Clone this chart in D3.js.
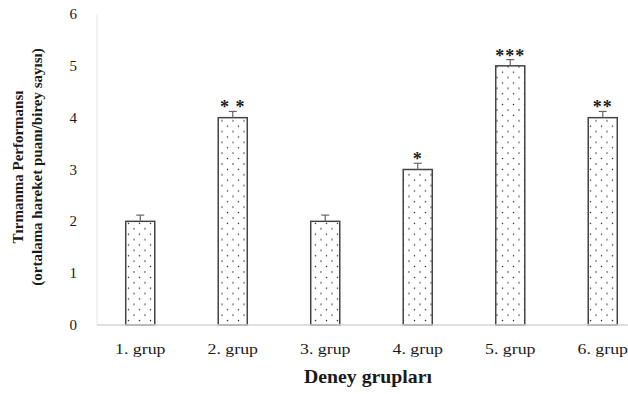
<!DOCTYPE html>
<html lang="tr">
<head>
<meta charset="UTF-8">
<title>Tırmanma Performansı</title>
<script src="https://d3js.org/d3.v7.min.js"></script>
<style>
    body { margin: 0; background: #fff; }
    svg { display: block; }
    text { font-family: "Liberation Serif", "Times New Roman", serif; fill: #1a1a1a; }
</style>
</head>
<body>
<svg width="628" height="394"></svg>
<script>
    // veriler
    const groups = ["1. grup", "2. grup", "3. grup", "4. grup", "5. grup", "6. grup"];
    const values = [2, 4, 2, 3, 5, 4];
    const errors = [0.12, 0.12, 0.12, 0.12, 0.12, 0.12];
    const stars = ["", "* *", "", "*", "***", "**"];
    const yTicks = [0, 1, 2, 3, 4, 5, 6];

    const svg = d3.select("svg");

    const x = d3.scaleBand()
        .domain(groups)
        .range([94, 649])
        .paddingInner(0.686)
        .paddingOuter(0.343);

    const y = d3.scaleLinear().domain([0, 6]).range([325, 14]);

    // nokta deseni
    const pat = svg.append("defs").append("pattern")
        .attr("id", "dots")
        .attr("patternUnits", "userSpaceOnUse")
        .attr("width", 11).attr("height", 10.8);
    pat.append("rect").attr("width", 11).attr("height", 10.8).attr("fill", "#fff");
    pat.append("circle").attr("cx", 2).attr("cy", 2).attr("r", 0.75).attr("fill", "#222");
    pat.append("circle").attr("cx", 7.5).attr("cy", 7.4).attr("r", 0.75).attr("fill", "#222");

    // y ekseni (sadece etiketler + soluk çizgi)
    svg.append("line")
        .attr("x1", 97).attr("x2", 97)
        .attr("y1", y(6)).attr("y2", y(0))
        .attr("stroke", "#e4e4e4").attr("stroke-width", 1);

    svg.append("g").selectAll("text")
        .data(yTicks)
        .join("text")
        .attr("x", 77)
        .attr("y", d => y(d) + 5)
        .attr("text-anchor", "end")
        .attr("font-size", 15)
        .text(d => d);

    // çubuklar
    const bars = svg.append("g").selectAll("g")
        .data(groups)
        .join("g");

    bars.append("rect")
        .attr("x", d => x(d))
        .attr("y", (d, i) => y(values[i]))
        .attr("width", x.bandwidth())
        .attr("height", (d, i) => y(0) - y(values[i]))
        .attr("fill", "url(#dots)")
        .attr("stroke", "#444")
        .attr("stroke-width", 1.5);

    // hata çubukları
    bars.append("line")
        .attr("x1", d => x(d) + x.bandwidth() / 2)
        .attr("x2", d => x(d) + x.bandwidth() / 2)
        .attr("y1", (d, i) => y(values[i]))
        .attr("y2", (d, i) => y(values[i] + errors[i]))
        .attr("stroke", "#666").attr("stroke-width", 1.2);
    bars.append("line")
        .attr("x1", d => x(d) + x.bandwidth() / 2 - 4)
        .attr("x2", d => x(d) + x.bandwidth() / 2 + 4)
        .attr("y1", (d, i) => y(values[i] + errors[i]))
        .attr("y2", (d, i) => y(values[i] + errors[i]))
        .attr("stroke", "#666").attr("stroke-width", 1.2);

    // anlamlılık yıldızları
    bars.append("text")
        .attr("x", d => x(d) + x.bandwidth() / 2)
        .attr("y", (d, i) => y(values[i] + errors[i]) + 2)
        .attr("text-anchor", "middle")
        .attr("font-size", 18)
        .attr("font-weight", "bold")
        .attr("letter-spacing", 1)
        .text((d, i) => stars[i]);

    // x ekseni
    svg.append("line")
        .attr("x1", 97).attr("x2", 628)
        .attr("y1", y(0)).attr("y2", y(0))
        .attr("stroke", "#d4d4d4").attr("stroke-width", 1.5);

    svg.append("g").selectAll("text")
        .data(groups)
        .join("text")
        .attr("transform", d => `translate(${x(d) + x.bandwidth() / 2},354) scale(1.15,1)`)
        .attr("text-anchor", "middle")
        .attr("font-size", 15.5)
        .text(d => d);

    // eksen başlıkları
    svg.append("text")
        .attr("transform", "translate(368,383) scale(1.1,1)")
        .attr("text-anchor", "middle")
        .attr("font-size", 18)
        .attr("font-weight", "bold")
        .text("Deney grupları");

    const yt = svg.append("text")
        .attr("transform", "translate(0,167) rotate(-90)")
        .attr("text-anchor", "middle")
        .attr("font-size", 15)
        .attr("font-weight", "bold");
    yt.append("tspan").attr("x", 0).attr("y", 23).text("Tırmanma Performansı");
    yt.append("tspan").attr("x", 0).attr("y", 42).text("(ortalama hareket puanı/birey sayısı)");
</script>
</body>
</html>
